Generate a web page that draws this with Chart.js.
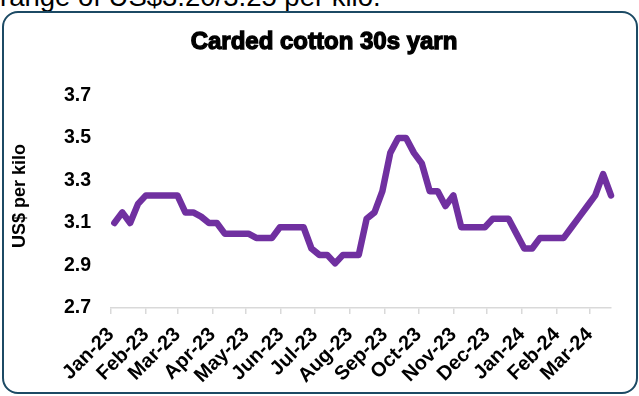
<!DOCTYPE html>
<html>
<head>
<meta charset="utf-8">
<script src="https://cdn.jsdelivr.net/npm/chart.js@4.4.1/dist/chart.umd.min.js"></script>
<style>
  html, body { margin: 0; padding: 0; background: #ffffff; }
  body { width: 639px; height: 396px; position: relative; overflow: hidden; font-family: "Liberation Sans", Arial, sans-serif; }
  #lead { position: absolute; left: 0; top: -17px; font-size: 27.5px; line-height: 27px; white-space: nowrap; color: #000; }
  #frame { position: absolute; left: 2px; top: 11px; width: 632px; height: 379px; border: 2px solid #1c4a64; border-radius: 16px; }
  #c { position: absolute; left: 0; top: 0; }
</style>
</head>
<body>
<div id="lead">range of US$3.20/3.25 per kilo.</div>
<div id="frame"></div>
<canvas id="c" width="639" height="396"></canvas>
<script>
// Weekly quotes, carded cotton 30s yarn (US$ per kilo)
const weekDates = [
  '2023-01-04','2023-01-11','2023-01-18','2023-01-25',
  '2023-02-01','2023-02-08','2023-02-15','2023-02-22',
  '2023-03-01','2023-03-08','2023-03-15','2023-03-22','2023-03-29',
  '2023-04-05','2023-04-12','2023-04-19','2023-04-26',
  '2023-05-03','2023-05-10','2023-05-17','2023-05-24','2023-05-31',
  '2023-06-07','2023-06-14','2023-06-21','2023-06-28',
  '2023-07-05','2023-07-12','2023-07-19','2023-07-26',
  '2023-08-02','2023-08-09','2023-08-16','2023-08-23','2023-08-30',
  '2023-09-06','2023-09-13','2023-09-20','2023-09-27',
  '2023-10-04','2023-10-11','2023-10-18','2023-10-25',
  '2023-11-01','2023-11-08','2023-11-15','2023-11-22','2023-11-29',
  '2023-12-06','2023-12-13','2023-12-20','2023-12-27',
  '2024-01-03','2024-01-10','2024-01-17','2024-01-24','2024-01-31',
  '2024-02-07','2024-02-14','2024-02-21','2024-02-28',
  '2024-03-06','2024-03-13','2024-03-20'
];

const yarnPrice = [
  3.10, 3.15, 3.10, 3.19,
  3.23, 3.23, 3.23, 3.23,
  3.23, 3.15, 3.15, 3.13, 3.10,
  3.10, 3.05, 3.05, 3.05,
  3.05, 3.03, 3.03, 3.03, 3.08,
  3.08, 3.08, 3.08, 2.98,
  2.95, 2.95, 2.91, 2.95,
  2.95, 2.95, 3.12, 3.15, 3.25,
  3.43, 3.50, 3.50, 3.43,
  3.38, 3.25, 3.25, 3.18,
  3.23, 3.08, 3.08, 3.08, 3.08,
  3.12, 3.12, 3.12, 3.05,
  2.98, 2.98, 3.03, 3.03, 3.03,
  3.03, 3.08, 3.13, 3.18,
  3.23, 3.33, 3.23
];

const monthLabels = [
  'Jan-23','Feb-23','Mar-23','Apr-23','May-23','Jun-23','Jul-23',
  'Aug-23','Sep-23','Oct-23','Nov-23','Dec-23','Jan-24','Feb-24','Mar-24'
];

const yTicks = [2.7, 2.9, 3.1, 3.3, 3.5, 3.7];

const chartTitle = 'Carded cotton 30s yarn';
const yAxisTitle = 'US$ per kilo';

// Day offsets from 1 Jan 2023 drive the horizontal (date) scale
const DAY_MS = 86400000;
const ORIGIN = Date.UTC(2023, 0, 1);
const MONTHS = ['Jan','Feb','Mar','Apr','May','Jun','Jul','Aug','Sep','Oct','Nov','Dec'];
const dayOf = s => (Date.parse(s) - ORIGIN) / DAY_MS;
const monthStart = lbl => {
  const [m, yy] = lbl.split('-');
  return (Date.UTC(2000 + Number(yy), MONTHS.indexOf(m), 1) - ORIGIN) / DAY_MS;
};
const monthTicks = monthLabels.map(monthStart);
const points = weekDates.map((d, i) => ({ x: dayOf(d), y: yarnPrice[i] }));

const FONT = '"Liberation Sans", Arial, sans-serif';

// Chart heading and rotated value-axis caption
const captions = {
  id: 'captions',
  afterDraw(chart) {
    const ctx = chart.ctx;
    ctx.save();
    ctx.fillStyle = '#000';
    ctx.strokeStyle = '#000';
    ctx.textAlign = 'center';
    ctx.textBaseline = 'middle';
    ctx.font = 'bold 24px ' + FONT;
    ctx.lineWidth = 1.3;
    ctx.fillText(chartTitle, 324, 42);
    ctx.strokeText(chartTitle, 324, 42);

    ctx.translate(20, 196);
    ctx.rotate(-Math.PI / 2);
    ctx.font = 'bold 18px ' + FONT;
    ctx.fillText(yAxisTitle, 0, 0);
    ctx.restore();
  }
};

new Chart(document.getElementById('c'), {
  type: 'line',
  data: {
    datasets: [{
      data: points,
      borderColor: '#7030A0',
      backgroundColor: '#7030A0',
      borderWidth: 6.5,
      borderJoinStyle: 'round',
      borderCapStyle: 'round',
      pointRadius: 0,
      pointHoverRadius: 0,
      tension: 0,
      clip: false
    }]
  },
  options: {
    responsive: false,
    animation: false,
    events: [],
    layout: { padding: { left: 0, right: 28, top: 95.5, bottom: 0 } },
    plugins: { legend: { display: false }, tooltip: { enabled: false }, title: { display: false } },
    scales: {
      x: {
        type: 'linear',
        min: 0,
        max: dayOf(weekDates[weekDates.length - 1]),
        afterBuildTicks: s => { s.ticks = monthTicks.map(v => ({ value: v })); },
        afterFit: s => { s.height = 88; s.paddingLeft = 0; s.paddingRight = 0; },
        grid: { display: true, drawOnChartArea: false, drawTicks: true, tickLength: 6, color: '#d9d9d9', lineWidth: 1.5 },
        border: { display: true, color: '#d9d9d9', width: 1.5 },
        ticks: {
          autoSkip: false,
          minRotation: 45,
          maxRotation: 45,
          padding: 9,
          color: '#000',
          font: { family: FONT, size: 20, weight: 'bold' },
          callback: (v, i) => monthLabels[i]
        }
      },
      y: {
        type: 'linear',
        min: 2.7,
        max: 3.7,
        afterBuildTicks: s => { s.ticks = yTicks.map(v => ({ value: v })); },
        afterFit: s => { s.width = 111; },
        grid: { display: false, drawTicks: false },
        border: { display: false },
        ticks: {
          padding: 20,
          color: '#000',
          font: { family: FONT, size: 19.5, weight: 'bold' },
          callback: v => v.toFixed(1)
        }
      }
    }
  },
  plugins: [captions]
});
</script>
</body>
</html>
